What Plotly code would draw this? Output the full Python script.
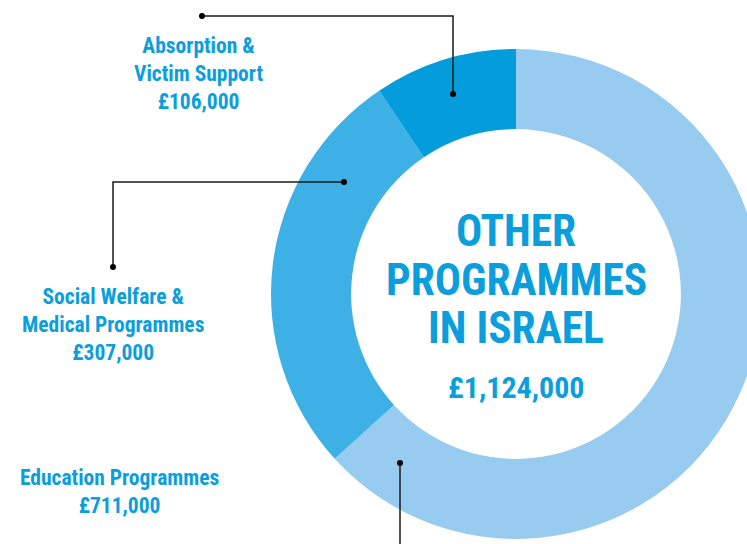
import plotly.graph_objects as go

categories = ["Education Programmes", "Social Welfare & Medical Programmes", "Absorption & Victim Support"]
label_lines = [["Education Programmes"], ["Social Welfare &", "Medical Programmes"], ["Absorption &", "Victim Support"]]
values = [711000, 307000, 106000]
slice_colors = ["#97CBF0", "#3DB1E6", "#059CDB"]
title_lines = ["OTHER", "PROGRAMMES", "IN ISRAEL"]

W, H = 770, 544
TXT = "#0B9EDC"
FONT = "Roboto Condensed, DejaVu Sans Condensed, sans-serif"

def px(x):
    return x / W

def py(y):
    return 1 - y / H

cx, cy, r = 516, 294, 245

fig = go.Figure(go.Pie(
    labels=categories,
    values=values,
    sort=False,
    direction="clockwise",
    rotation=0,
    hole=0.673,
    marker=dict(colors=slice_colors, line=dict(width=0)),
    textinfo="none",
    hoverinfo="label+value",
    showlegend=False,
    domain=dict(x=[px(cx - r), px(cx + r)], y=[py(cy + r), py(cy - r)]),
))

annotations = []
# centre title
for line, yc in zip(title_lines, [231.5, 280.5, 328.5]):
    annotations.append(dict(text="<b>%s</b>" % line, x=px(cx), y=py(yc), xref="paper", yref="paper",
                            xanchor="center", yanchor="middle", showarrow=False,
                            font=dict(family=FONT, size=43.5, color=TXT)))
total = sum(values)
annotations.append(dict(text="<b>£{:,}</b>".format(total), x=px(cx), y=py(387), xref="paper", yref="paper",
                        xanchor="center", yanchor="middle", showarrow=False,
                        font=dict(family=FONT, size=30, color=TXT)))

# side labels
label_pos = [(119, 491), (113, 324.5), (199, 74)]
for lines, v, (lx, ly) in zip(label_lines, values, label_pos):
    txt = "<br>".join("<b>%s</b>" % l for l in lines + ["£{:,}".format(v)])
    annotations.append(dict(text=txt, x=px(lx), y=py(ly), xref="paper", yref="paper",
                            xanchor="center", yanchor="middle", showarrow=False, align="center",
                            font=dict(family=FONT, size=21.5, color=TXT)))

# connector lines
connectors = [
    [(400, 463), (400, 560)],
    [(344, 182), (113, 182), (113, 267)],
    [(453, 94), (453, 16), (202, 16)],
]
dots = [(400, 463), (344, 182), (113, 267), (453, 94), (202, 16)]
shapes = []
for pts in connectors:
    path = "M " + " L ".join("%f,%f" % (px(x), py(y)) for x, y in pts)
    shapes.append(dict(type="path", xref="paper", yref="paper", path=path,
                       line=dict(color="#1a1a1a", width=1.5)))
for x, y in dots:
    shapes.append(dict(type="circle", xref="paper", yref="paper",
                       x0=px(x - 3), x1=px(x + 3), y0=py(y + 3), y1=py(y - 3),
                       fillcolor="#000000", line=dict(width=0)))

fig.update_layout(
    width=W, height=H, autosize=False,
    margin=dict(l=0, r=0, t=0, b=0),
    paper_bgcolor="white", plot_bgcolor="white",
    annotations=annotations, shapes=shapes,
)

fig.write_html("out.html", config={"displayModeBar": False},
               post_script="document.body.style.margin='0';document.body.style.overflow='hidden';document.documentElement.style.overflow='hidden';")
